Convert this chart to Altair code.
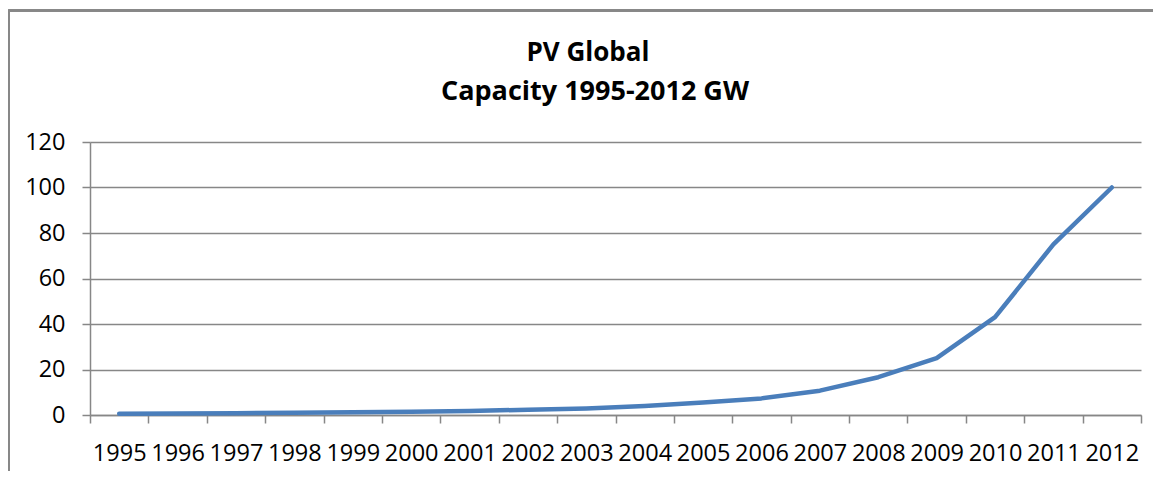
import altair as alt
import pandas as pd

years = ["1995", "1996", "1997", "1998", "1999", "2000", "2001", "2002", "2003",
         "2004", "2005", "2006", "2007", "2008", "2009", "2010", "2011", "2012"]
capacity = [0.6, 0.7, 0.8, 1.0, 1.2, 1.4, 1.8, 2.3, 2.9,
            4.0, 5.5, 7.3, 10.7, 16.6, 25.0, 43.0, 75.0, 100.0]
y_ticks = [0, 20, 40, 60, 80, 100, 120]
title_line1 = "PV Global"
title_line2 = "Capacity 1995-2012 GW"

df = pd.DataFrame({"year": years, "capacity": capacity})

GRID = "#878787"
FONT = "Open Sans"

line = alt.Chart(df).mark_line(
    color="#4A7EBB", strokeWidth=4.5, strokeCap="round", strokeJoin="round"
).encode(
    x=alt.X(
        "year:N", sort=years,
        scale=alt.Scale(type="band", paddingInner=0, paddingOuter=0),
        axis=alt.Axis(
            title=None, labelAngle=0, tickBand="extent", grid=False,
            domainColor=GRID, tickColor=GRID, tickSize=8, domainWidth=1.5, tickWidth=1.5,
            labelFont=FONT, labelFontSize=23.5, labelColor="black", labelPadding=18,
        ),
    ),
    y=alt.Y(
        "capacity:Q",
        scale=alt.Scale(domain=[0, 120], nice=False),
        axis=alt.Axis(
            title=None, values=y_ticks, grid=True, gridColor=GRID, gridWidth=1.5,
            domainColor=GRID, tickColor=GRID, tickSize=8, domainWidth=1.5, tickWidth=1.5,
            labelFont=FONT, labelFontSize=23.5, labelColor="black", labelPadding=17,
        ),
    ),
)

border_left = alt.Chart(df).mark_rule(color=GRID, strokeWidth=1.5).encode(
    x=alt.value(-81.5), y=alt.value(-131.5), y2=alt.value(400)
)
border_top = alt.Chart(df).mark_rule(color=GRID, strokeWidth=1.5).encode(
    x=alt.value(-81.5), x2=alt.value(1200), y=alt.value(-131.5)
)

title1 = alt.Chart().mark_text(
    font=FONT, fontSize=26, fontWeight="bold", color="black",
    align="center", baseline="alphabetic",
).encode(x=alt.value(498), y=alt.value(-81), text=alt.value(title_line1))
title2 = alt.Chart().mark_text(
    font=FONT, fontSize=27, fontWeight="bold", color="black",
    align="center", baseline="alphabetic",
).encode(x=alt.value(505), y=alt.value(-42), text=alt.value(title_line2))

chart = alt.layer(border_left, border_top, line, title1, title2).properties(
    width=1051, height=273,
    autosize=alt.AutoSizeParams(type="none"),
    padding={"left": 82, "top": 134, "right": 12, "bottom": 56},
).configure_view(stroke=None)

chart.save("out.html", embed_options={"renderer": "svg", "actions": False})
